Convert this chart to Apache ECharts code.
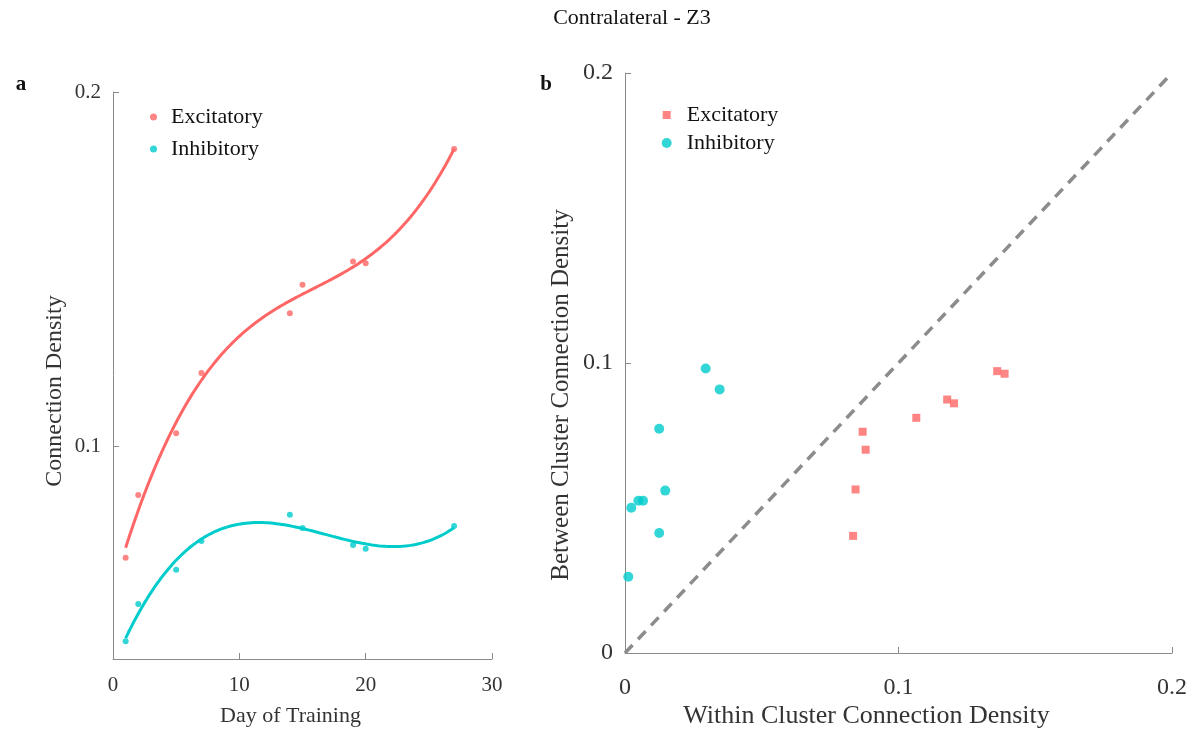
<!DOCTYPE html>
<html>
<head>
<meta charset="utf-8">
<title>Contralateral - Z3</title>
<script src="https://cdn.jsdelivr.net/npm/echarts@6/dist/echarts.min.js"></script>
<style>
  html, body { margin: 0; padding: 0; background: #ffffff; }
  #chart { width: 1190px; height: 737px; }
</style>
</head>
<body>
<div id="chart"></div>
<script>
// Panel a: connection density per training day
const days = [1, 2, 5, 7, 14, 15, 19, 20, 27];
const excDensity = [0.0686, 0.0863, 0.1037, 0.1207, 0.1376, 0.1456, 0.1522, 0.1517, 0.1839];
const inhDensity = [0.0450, 0.0555, 0.0652, 0.0733, 0.0807, 0.0770, 0.0722, 0.0711, 0.0775];

// Panel b: within- vs between-cluster connection density
const excWithin  = [0.0834, 0.0843, 0.0880, 0.0869, 0.1065, 0.1178, 0.1203, 0.1361, 0.1388];
const excBetween = [0.0404, 0.0564, 0.0701, 0.0763, 0.0811, 0.0874, 0.0861, 0.0972, 0.0963];
const inhWithin  = [0.0012, 0.0023, 0.0049, 0.0066, 0.0125, 0.0147, 0.0125, 0.0295, 0.0346];
const inhBetween = [0.0263, 0.0501, 0.0525, 0.0525, 0.0414, 0.0560, 0.0773, 0.0981, 0.0909];

// Tick labels
const dayTicks = [0, 10, 20, 30];
const densityTicksA = [0.1, 0.2];
const densityTicksB = [0, 0.1, 0.2];

const RED = '#ff6666';
const CYAN = '#00cccc';
const AXIS = '#8a8a8a';
const TEXT = '#333333';
const FONT = 'Liberation Serif';

// Least-squares cubic trend through (x, y)
function cubicFit(xs, ys) {
  const n = 4;
  const cx = (Math.min(...xs) + Math.max(...xs)) / 2;
  const sx = (Math.max(...xs) - Math.min(...xs)) / 2;
  const A = Array.from({ length: n }, () => new Array(n + 1).fill(0));
  xs.forEach((x, k) => {
    const t = (x - cx) / sx;
    const p = [1, t, t * t, t * t * t];
    for (let i = 0; i < n; i++) {
      for (let j = 0; j < n; j++) A[i][j] += p[i] * p[j];
      A[i][n] += p[i] * ys[k];
    }
  });
  for (let c = 0; c < n; c++) {
    let piv = c;
    for (let r = c + 1; r < n; r++) if (Math.abs(A[r][c]) > Math.abs(A[piv][c])) piv = r;
    [A[c], A[piv]] = [A[piv], A[c]];
    for (let r = 0; r < n; r++) {
      if (r === c) continue;
      const f = A[r][c] / A[c][c];
      for (let j = c; j <= n; j++) A[r][j] -= f * A[c][j];
    }
  }
  const coef = A.map((row, i) => row[n] / row[i]);
  return x => {
    const t = (x - cx) / sx;
    return coef[0] + coef[1] * t + coef[2] * t * t + coef[3] * t * t * t;
  };
}

function trendLine(xs, ys) {
  const f = cubicFit(xs, ys);
  const out = [];
  const x0 = Math.min(...xs), x1 = Math.max(...xs);
  const steps = 120;
  for (let i = 0; i <= steps; i++) {
    const x = x0 + (x1 - x0) * i / steps;
    out.push([x, f(x)]);
  }
  return out;
}

const zip = (a, b) => a.map((v, i) => [v, b[i]]);

const chart = echarts.init(document.getElementById('chart'), null, { renderer: 'canvas' });

const axisCommon = {
  axisLine: { show: true, lineStyle: { color: AXIS, width: 1 } },
  axisTick: { show: true, inside: true, length: 6, lineStyle: { color: AXIS } },
  splitLine: { show: false },
};

const legendText = size => ({ fontFamily: FONT, fontSize: size, color: '#111', lineHeight: 22 });

chart.setOption({
  animation: false,
  backgroundColor: '#ffffff',
  grid: [
    { left: 113, top: 92, width: 379, height: 567 },
    { left: 625, top: 73, width: 548, height: 580 }
  ],
  xAxis: [
    Object.assign({}, axisCommon, {
      gridIndex: 0, type: 'value', min: 0, max: 30, interval: 10,
      axisTick: Object.assign({}, axisCommon.axisTick, { customValues: dayTicks }),
      axisLabel: { customValues: dayTicks, fontFamily: FONT, fontSize: 21, color: TEXT, margin: 16 }
    }),
    Object.assign({}, axisCommon, {
      gridIndex: 1, type: 'value', min: 0, max: 0.2, interval: 0.1,
      axisTick: Object.assign({}, axisCommon.axisTick, { customValues: densityTicksB }),
      axisLabel: { customValues: densityTicksB, fontFamily: FONT, fontSize: 24, color: TEXT, margin: 23 }
    })
  ],
  yAxis: [
    Object.assign({}, axisCommon, {
      gridIndex: 0, type: 'value', min: 0.04, max: 0.2,
      axisTick: Object.assign({}, axisCommon.axisTick, { customValues: densityTicksA }),
      axisLabel: { customValues: densityTicksA, fontFamily: FONT, fontSize: 21, color: TEXT, margin: 12 }
    }),
    Object.assign({}, axisCommon, {
      gridIndex: 1, type: 'value', min: 0, max: 0.2, interval: 0.1,
      axisTick: Object.assign({}, axisCommon.axisTick, { customValues: densityTicksB }),
      axisLabel: { customValues: densityTicksB, fontFamily: FONT, fontSize: 24, color: TEXT, margin: 12 }
    })
  ],
  legend: [
    { left: 145, top: 101, orient: 'vertical', itemWidth: 25, itemHeight: 7,
      data: [{ name: 'Excitatory', icon: 'circle' }], textStyle: legendText(22) },
    { left: 145, top: 133, orient: 'vertical', itemWidth: 25, itemHeight: 7,
      data: [{ name: 'Inhibitory', icon: 'circle' }], textStyle: legendText(22) },
    { left: 657.7, top: 99, orient: 'vertical', itemWidth: 8, itemHeight: 8,
      data: [{ name: 'Excitatory', icon: 'rect' }],
      textStyle: Object.assign(legendText(22), { padding: [0, 0, 0, 11] }) },
    { left: 656.7, top: 127, orient: 'vertical', itemWidth: 10, itemHeight: 10,
      data: [{ name: 'Inhibitory', icon: 'circle' }],
      textStyle: Object.assign(legendText(22), { padding: [0, 0, 0, 10] }) }
  ],
  graphic: [
    { type: 'text', x: 632, y: 18, style: { text: 'Contralateral - Z3', font: '22px "Liberation Serif"', fill: '#111', align: 'center', verticalAlign: 'middle' } },
    { type: 'text', x: 21, y: 85, style: { text: 'a', font: 'bold 21px "Liberation Serif"', fill: '#111', align: 'center', verticalAlign: 'middle' } },
    { type: 'text', x: 546, y: 85, style: { text: 'b', font: 'bold 21px "Liberation Serif"', fill: '#111', align: 'center', verticalAlign: 'middle' } },
    { type: 'text', x: 290.5, y: 716, style: { text: 'Day of Training', font: '22px "Liberation Serif"', fill: TEXT, align: 'center', verticalAlign: 'middle' } },
    { type: 'text', x: 55, y: 391, rotation: Math.PI / 2, style: { text: 'Connection Density', font: '24px "Liberation Serif"', fill: TEXT, align: 'center', verticalAlign: 'middle' } },
    { type: 'text', x: 866.5, y: 716, style: { text: 'Within Cluster Connection Density', font: '26px "Liberation Serif"', fill: TEXT, align: 'center', verticalAlign: 'middle' } },
    { type: 'text', x: 561, y: 395, rotation: Math.PI / 2, style: { text: 'Between Cluster Connection Density', font: '25px "Liberation Serif"', fill: TEXT, align: 'center', verticalAlign: 'middle' } }
  ],
  series: [
    { name: 'Excitatory', type: 'scatter', xAxisIndex: 0, yAxisIndex: 0, symbol: 'circle', symbolSize: 6,
      itemStyle: { color: RED }, data: zip(days, excDensity), z: 3 },
    { name: 'Inhibitory', type: 'scatter', xAxisIndex: 0, yAxisIndex: 0, symbol: 'circle', symbolSize: 6,
      itemStyle: { color: CYAN }, data: zip(days, inhDensity), z: 3 },
    { name: 'Excitatory trend', type: 'line', xAxisIndex: 0, yAxisIndex: 0, showSymbol: false, silent: true,
      lineStyle: { color: RED, width: 3 }, itemStyle: { color: RED }, data: trendLine(days, excDensity), z: 2 },
    { name: 'Inhibitory trend', type: 'line', xAxisIndex: 0, yAxisIndex: 0, showSymbol: false, silent: true,
      lineStyle: { color: CYAN, width: 3 }, itemStyle: { color: CYAN }, data: trendLine(days, inhDensity), z: 2 },
    { name: 'Identity', type: 'line', xAxisIndex: 1, yAxisIndex: 1, showSymbol: false, silent: true,
      lineStyle: { color: '#8c8c8c', width: 3.5, type: [11, 8] }, data: [[0, 0], [0.2, 0.2]], z: 1 },
    { name: 'Excitatory', type: 'scatter', xAxisIndex: 1, yAxisIndex: 1, symbol: 'rect', symbolSize: 8,
      itemStyle: { color: RED }, data: zip(excWithin, excBetween), z: 3 },
    { name: 'Inhibitory', type: 'scatter', xAxisIndex: 1, yAxisIndex: 1, symbol: 'circle', symbolSize: 10,
      itemStyle: { color: CYAN }, data: zip(inhWithin, inhBetween), z: 3 }
  ]
});
</script>
</body>
</html>
